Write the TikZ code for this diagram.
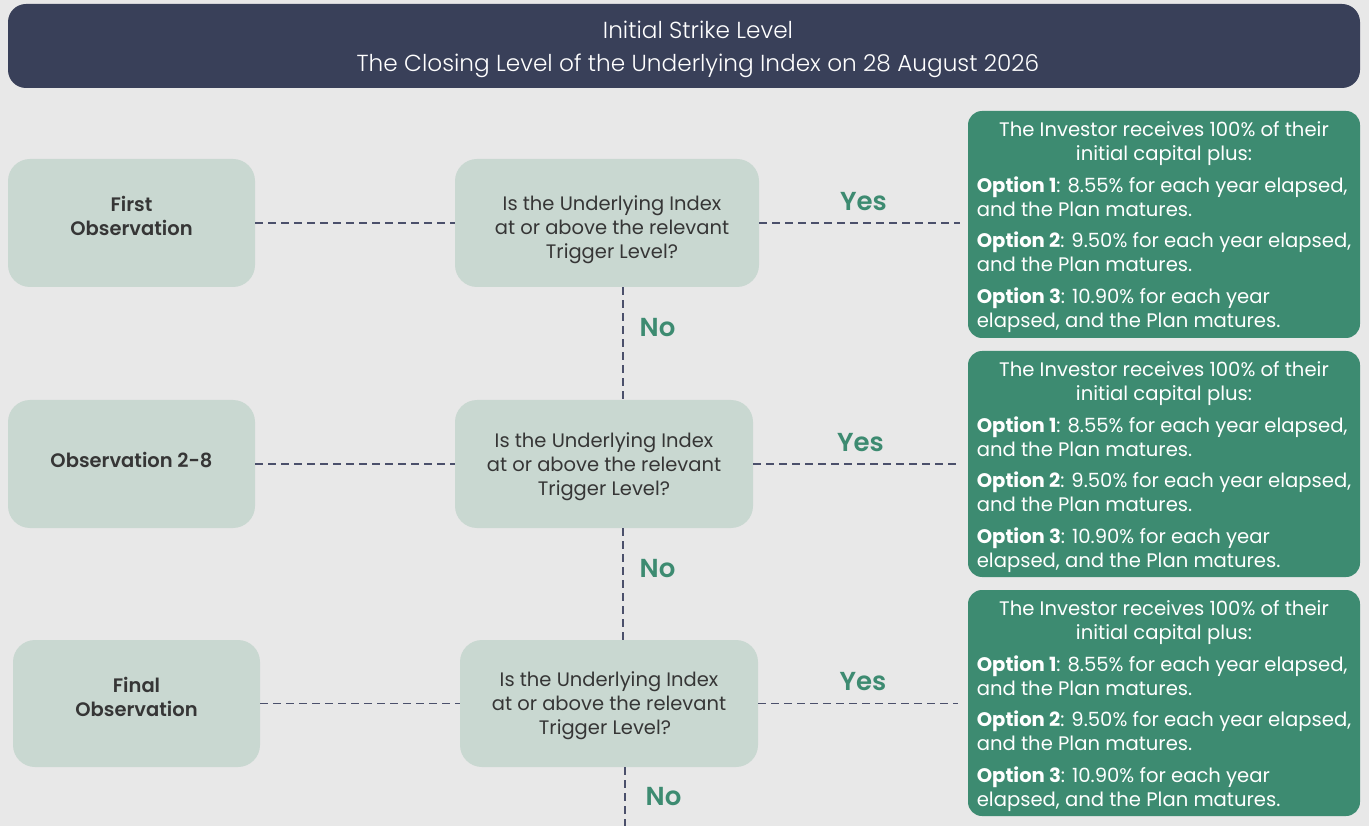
\documentclass[tikz,border=0pt]{standalone}
\usepackage{fontspec}
\setmainfont{Poppins}
\newfontfamily\hdrfont{Poppins Light}
\newfontfamily\semifont{Poppins SemiBold}
\usepackage{tikz}
\usetikzlibrary{positioning,calc}

\definecolor{pagegray}{HTML}{E8E8E8}
\definecolor{slate}{HTML}{394059}
\definecolor{sage}{HTML}{C9D8D1}
\definecolor{plangreen}{HTML}{3D8B71}
\definecolor{inkgray}{HTML}{363636}
\definecolor{dashgray}{HTML}{4B506B}

% Text der gruenen Kaesten
\newcommand\payoutlines{%
  \begin{tabular}{@{}l@{}}
    \multicolumn{1}{@{}c@{}}{The Investor receives 100\% of their}\\
    \multicolumn{1}{@{}c@{}}{initial capital plus:}\\[8pt]
    \textbf{Option 1}: 8.55\% for each year elapsed,\\
    and the Plan matures.\\[7pt]
    \textbf{Option 2}: 9.50\% for each year elapsed,\\
    and the Plan matures.\\[8pt]
    \textbf{Option 3}: 10.90\% for each year\\
    elapsed, and the Plan matures.\\[-6pt]
  \end{tabular}}

\begin{document}
\begin{tikzpicture}
                    [
                        x=1pt, y=-1pt,
                        hdrbox/.style={fill=slate, rounded corners=18pt, minimum width=1352pt, minimum height=84pt, text=white, align=center, text depth=-4pt, font=\hdrfont\fontsize{23.2}{33}\selectfont},
                        obsbox/.style={fill=sage, rounded corners=22pt, minimum width=247pt, minimum height=128pt, align=center, text=inkgray, text depth=15pt, font=\semifont\fontsize{19.5}{24}\selectfont},
                        askbox/.style={fill=sage, rounded corners=22pt, minimum width=298pt, minimum height=128pt, align=center, text=inkgray, text depth=0pt, font=\fontsize{19.5}{24}\selectfont},
                        resbox/.style={fill=plangreen, rounded corners=14pt, minimum width=392pt, minimum height=226pt, text=white, inner sep=0pt, font=\fontsize{19.6}{24}\selectfont},
                        link/.style={draw=dashgray, line width=1.3pt, dash pattern=on 8pt off 5pt},
                        yeslbl/.style={text=plangreen, inner sep=2pt, font=\semifont\fontsize{26}{30}\selectfont},
                        nolbl/.style={text=plangreen, inner sep=2pt, anchor=west, font=\semifont\fontsize{26}{30}\selectfont}
                    ]

                    % Hintergrund
                    \fill[pagegray] (0,0) rectangle (1369,826);
                    \useasboundingbox (0,0) rectangle (1369,826);

                    \node[hdrbox] (hdr) at (684,46) {\hspace*{28pt}Initial Strike Level\\\hspace*{28pt}The Closing Level of the Underlying Index on 28 August 2026};

                    % erste Zeile
                    \node[obsbox] (obs1) at (131.5,223) {First\\Observation};
                    \node[askbox, minimum width=304pt] (ask1) at (607,223) {\rule{0pt}{23pt}\hspace*{10pt}Is the Underlying Index\\\hspace*{10pt}at or above the relevant\\\hspace*{10pt}Trigger Level?};
                    \node[resbox, minimum height=227pt] (res1) at (1164,224.5) {\payoutlines};

                    % zweite Zeile
                    \node[obsbox, text depth=8pt] (obs2) at (131.5,464) {Observation 2-8};
                    \node[askbox] (ask2) at (604,464) {Is the Underlying Index\\at or above the relevant\\Trigger Level?};
                    \node[resbox] (res2) at (1164,464) {\payoutlines};

                    % letzte Zeile
                    \node[obsbox, minimum height=127pt, text depth=14pt] (obs3) at (136.5,703.5) {Final\\Observation};
                    \node[askbox, minimum height=127pt] (ask3) at (609,703.5) {Is the Underlying Index\\at or above the relevant\\Trigger Level?\hspace*{8pt}};
                    \node[resbox] (res3) at (1164,703) {\payoutlines};

                    \coordinate (vx) at (623,0);
                    \coordinate (vx3) at (625,0);
                    \coordinate (foot) at (625,826);

                    \draw[link] (obs1.east) -- (ask1.west);
                    \draw[link] (obs2.east) -- (ask2.west);
                    \draw[link] (obs3.east) -- (ask3.west);

                    \draw[link, shorten >=8pt] (ask1.east) -- node[yeslbl, above=10pt] (yes1) {Yes} (ask1.east -| res1.west);
                    \draw[link, shorten >=10pt] (ask2.east) -- node[yeslbl, above=10pt] (yes2) {Yes} (ask2.east -| res2.west);
                    \draw[link, shorten >=10pt] (ask3.east) -- node[yeslbl, above=10pt] (yes3) {Yes} (ask3.east -| res3.west);

                    \draw[link] (ask1.south -| vx) -- node[nolbl, pos=0.36, right=14pt] (no1) {No} (ask2.north -| vx);
                    \draw[link] (ask2.south -| vx) -- node[nolbl, pos=0.36, right=14pt] (no2) {No} (ask3.north -| vx);
                    \draw[link] (ask3.south -| vx3) -- node[nolbl, pos=0.5, right=18pt] (no3) {No} (foot);
                \end{tikzpicture}
\end{document}
